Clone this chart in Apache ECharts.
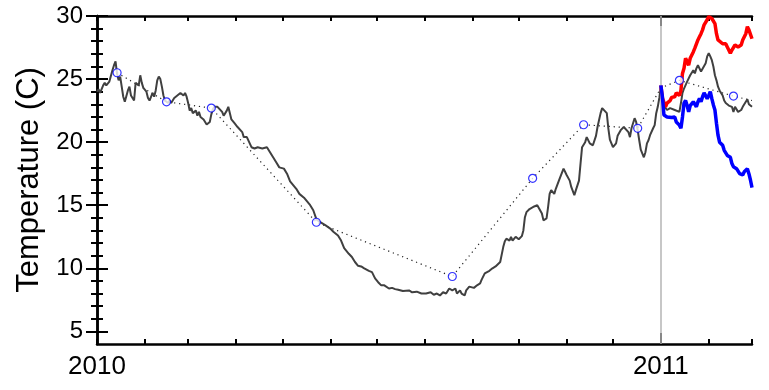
<!DOCTYPE html>
<html>
<head>
<meta charset="utf-8">
<script src="https://cdn.jsdelivr.net/npm/echarts@6/dist/echarts.min.js"></script>
<style>
  html, body { margin: 0; padding: 0; background: #fff; }
  #chart { width: 769px; height: 390px; }
</style>
</head>
<body>
<div id="chart"></div>
<script>
// x values are days counted from 1 January 2010
const START = Date.UTC(2010, 0, 1);
const DAY = 86400000;

// daily simulated temperature (dark line)
const dailyTemp = [
  [0,24.0],[1,24.2],[2,23.9],[4,24.5],[5,24.7],[6,24.5],[8,24.8],[10,25.7],[11,26.1],[12,26.4],
  [13,25.4],[14,24.9],[15,25.2],[16,24.4],[17,23.6],[18,23.2],[19,23.1],[20,24.1],[21,24.4],[22,23.7],
  [24,23.3],[25,24.7],[26,24.8],[27,24.5],[28,25.3],[29,24.7],[30,24.3],[32,24.0],[33,23.5],[34,23.3],
  [36,23.9],[37,23.6],[38,24.1],[39,24.9],[40,25.2],[41,25.0],[42,24.4],[43,23.7],[44,23.3],[45,23.2],
  [46,23.1],[47,23.3],[48,23.1],[50,23.5],[52,23.7],[54,23.9],[56,23.7],[57,23.9],[58,23.6],[59,23.1],
  [60,22.5],[61,22.7],[62,22.3],[64,22.5],[65,22.1],[66,22.4],[67,22.0],[68,22.1],[69,21.8],[71,21.4],
  [72,21.3],[73,21.6],[74,22.2],[75,22.6],[76,22.8],[78,22.8],[81,22.4],[82,22.1],[84,22.5],[85,22.8],
  [87,21.8],[89,21.5],[90,21.5],[91,21.2],[94,20.8],[95,20.4],[97,20.4],[98,20.3],[100,19.6],[102,19.5],
  [104,19.6],[107,19.5],[108,19.6],[110,19.6],[112,19.2],[114,18.8],[116,18.4],[118,18.0],[121,17.9],[123,17.5],
  [125,16.9],[127,16.6],[129,16.3],[131,15.9],[134,15.6],[136,15.3],[138,15.0],[140,14.6],[142,13.9],[144,13.7],
  [148,13.4],[151,13.15],[153,12.9],[156,12.6],[158,12.2],[160,11.6],[163,11.15],[165,10.9],[167,10.5],[169,10.2],
  [171,10.15],[173,10.0],[176,9.8],[178,9.7],[180,9.2],[182,8.9],[184,8.65],[186,8.65],[189,8.4],[191,8.45],
  [193,8.35],[195,8.3],[198,8.2],[202,8.25],[204,8.1],[207,8.15],[210,8.0],[213,8.0],[216,8.1],[218,7.9],
  [220,8.0],[222,7.85],[224,8.1],[226,8.0],[228,8.4],[230,8.25],[232,8.4],[233,8.0],[235,8.25],[236,8.0],
  [238,7.85],[239,8.25],[241,8.55],[242,8.65],[244,8.45],[246,8.65],[248,8.8],[249,9.1],[251,9.6],[252,9.6],
  [254,9.8],[256,10.0],[258,10.15],[259,10.25],[261,10.5],[263,11.7],[264,12.15],[265,12.35],[267,12.2],[268,12.5],
  [269,12.2],[271,12.5],[273,12.3],[275,12.55],[276,13.0],[277,14.05],[278,14.45],[280,14.7],[281,14.8],[283,14.9],
  [285,15.0],[286,14.85],[288,14.35],[289,13.8],[291,13.95],[292,14.85],[293,15.9],[294,16.2],[296,15.9],[297,16.3],
  [299,16.95],[300,17.0],[302,17.9],[303,17.65],[304,17.4],[306,16.95],[307,16.45],[309,15.8],[310,16.2],[312,16.95],
  [313,18.3],[314,19.6],[316,20.0],[317,20.4],[319,19.9],[321,19.75],[322,19.6],[323,20.5],[324,21.2],[325,21.75],
  [326,22.3],[327,22.7],[328,22.8],[330,22.3],[331,21.1],[332,20.2],[334,19.6],[336,19.9],[337,20.5],[339,20.95],
  [341,21.2],[342,21.1],[344,20.8],[345,20.4],[346,21.1],[348,21.9],[349,21.6],[350,20.95],[351,20.15],[352,19.4],
  [354,18.8],[355,19.2],[356,19.9],[357,20.15],[358,20.55],[359,20.7],[360,21.1],[361,21.35],[362,22.3],[363,22.8],
  [364,23.5],[365,24.4],[366,23.6],[367,22.9],[369,22.55],[371,22.7],[372,22.8],[374,22.55],[375,22.7],[377,22.4],
  [378,23.1],[379,23.9],[380,24.25],[382,24.8],[383,24.65],[384,25.3],[385,25.2],[386,25.7],[387,25.45],[388,25.85],
  [389,26.1],[390,26.0],[391,25.6],[392,25.6],[394,26.25],[395,26.8],[396,27.05],[397,26.8],[398,26.5],[399,26.0],
  [400,25.3],[401,24.9],[402,24.4],[403,24.1],[404,23.9],[405,23.7],[406,23.3],[407,23.1],[409,22.9],[410,22.8],
  [411,22.8],[412,22.4],[413,22.8],[414,22.7],[415,22.4],[417,22.55],[418,22.8],[420,23.2],[421,23.4],[422,23.0],
  [424,22.8]
];

// warm scenario from 1 January 2011
const warmTemp = [
  [365,24.5],[366,23.5],[368,22.8],[369,23.1],[371,23.3],[372,23.55],[374,23.6],[375,23.9],[377,23.7],[378,24.1],
  [379,25.45],[380,25.85],[381,26.65],[382,26.5],[383,26.1],[384,26.65],[386,27.15],[387,27.45],[388,27.55],[389,28.1],
  [390,28.35],[391,28.6],[392,28.9],[393,29.3],[395,29.7],[396,29.95],[397,29.95],[398,29.8],[399,29.95],[400,29.4],
  [401,28.6],[402,28.1],[403,27.95],[405,27.8],[407,27.8],[408,27.55],[409,27.45],[410,27.05],[411,27.3],[413,27.7],
  [415,27.55],[417,27.7],[418,28.1],[420,28.6],[421,29.15],[422,28.9],[424,28.2]
];

// cool scenario from 1 January 2011
const coolTemp = [
  [365,24.5],[366,23.6],[367,22.15],[369,22.0],[370,22.05],[372,21.95],[374,22.0],[375,21.6],[376,21.55],[377,21.35],
  [378,21.1],[379,22.0],[380,23.1],[381,23.3],[382,22.9],[383,22.4],[384,22.9],[386,23.2],[387,23.1],[388,22.8],
  [389,23.2],[390,23.45],[391,23.2],[392,23.6],[393,23.9],[395,23.45],[396,23.7],[397,24.0],[398,23.45],[399,22.95],
  [400,22.55],[401,21.5],[402,20.55],[403,20.0],[405,19.75],[406,19.35],[408,18.95],[410,18.8],[411,18.3],[412,18.05],
  [413,18.2],[414,17.9],[416,17.5],[418,17.4],[419,17.65],[421,17.9],[422,17.5],[423,17.0],[424,16.4]
];

// measured values (circles)
const measured = [
  [13,25.5],[45,23.2],[74,22.7],[142,13.65],[230,9.35],[282,17.13],[315,21.38],[350,21.1],[377,24.9],[412,23.65]
];

// dotted guide through the measurements, joined to the run start and the period end
const guide = [
  [13,25.5],[45,23.2],[74,22.7],[142,13.65],[230,9.35],[282,17.13],[315,21.38],[350,21.1],
  [365,24.3],[377,24.9],[412,23.65],[424,23.3]
];

const yMajor = [5, 10, 15, 20, 25, 30];
const yMinor = [];
for (let v = 5; v <= 29; v++) yMinor.push(v);

// first day of each month across the plotted period
const monthStarts = [];
for (let m = 0; m <= 14; m++) monthStarts.push((Date.UTC(2010, m, 1) - START) / DAY);
const yearStarts = [0, 365];
const X_MAX = (Date.UTC(2011, 2, 1) - START) / DAY;

const FONT = 'Liberation Sans, Arial, sans-serif';
const frameLine = { show: true, lineStyle: { color: '#000', width: 2.5 } };
const noLine = { show: false };

function xAx(pos, ticks, len, withFrame, labels) {
  return {
    type: 'value', position: pos, min: 0, max: X_MAX,
    axisLine: withFrame ? frameLine : noLine,
    axisTick: { show: true, inside: true, length: len, customValues: ticks,
                lineStyle: { color: '#000', width: 2 } },
    axisLabel: labels ? {
      show: true, customValues: yearStarts, color: '#000', fontSize: 26, fontFamily: FONT, margin: 10,
      formatter: v => String(new Date(START + v * DAY).getUTCFullYear())
    } : { show: false },
    splitLine: { show: false }
  };
}

function yAx(pos, ticks, len, withFrame, labels) {
  const ax = {
    type: 'value', position: pos, min: 4, max: 30,
    axisLine: withFrame ? frameLine : noLine,
    axisTick: { show: true, inside: true, length: len, customValues: ticks,
                lineStyle: { color: '#000', width: 2 } },
    axisLabel: labels ? {
      show: true, customValues: yMajor, color: '#000', fontSize: 24, fontFamily: FONT, margin: 14
    } : { show: false },
    splitLine: { show: false }
  };
  if (labels) {
    ax.name = 'Temperature (C)';
    ax.nameLocation = 'middle';
    ax.nameGap = 50;
    ax.nameTextStyle = { color: '#000', fontSize: 31, fontFamily: FONT };
  }
  return ax;
}

const chart = echarts.init(document.getElementById('chart'), null, { renderer: 'canvas' });
chart.setOption({
  animation: false,
  backgroundColor: '#fff',
  grid: { left: 97, right: 17, top: 16, bottom: 46, containLabel: false, outerBoundsMode: 'none' },
  xAxis: [
    xAx('bottom', monthStarts, 5, true, true),
    xAx('top', monthStarts, 5, true, false),
    xAx('bottom', [365], 11, false, false),
    xAx('top', [365], 10, false, false)
  ],
  yAxis: [
    yAx('left', yMajor, 11, true, true),
    yAx('left', yMinor, 6, false, false),
    yAx('right', yMajor, 11, true, false),
    yAx('right', yMinor, 6, false, false)
  ],
  series: [
    {
      type: 'line', data: [], z: 1, silent: true,
      markLine: {
        silent: true, symbol: 'none', label: { show: false },
        lineStyle: { color: '#b4b4b4', width: 1.5, type: 'solid' },
        data: [{ xAxis: 365 }]
      }
    },
    {
      type: 'line', data: guide, showSymbol: false, z: 2, silent: true,
      lineStyle: { color: '#222', width: 1.2, type: [1.2, 3.8] }
    },
    {
      type: 'line', data: dailyTemp, showSymbol: false, z: 3,
      lineStyle: { color: '#404040', width: 2 }
    },
    {
      type: 'line', data: warmTemp, showSymbol: false, z: 4,
      lineStyle: { color: '#ff0000', width: 3.5 }
    },
    {
      type: 'line', data: coolTemp, showSymbol: false, z: 5,
      lineStyle: { color: '#0000ff', width: 3.5 }
    },
    {
      type: 'scatter', data: measured, symbol: 'circle', symbolSize: 8, z: 6,
      itemStyle: { color: '#fff', borderColor: '#0000ff', borderWidth: 1.2 }
    }
  ]
});
</script>
</body>
</html>
